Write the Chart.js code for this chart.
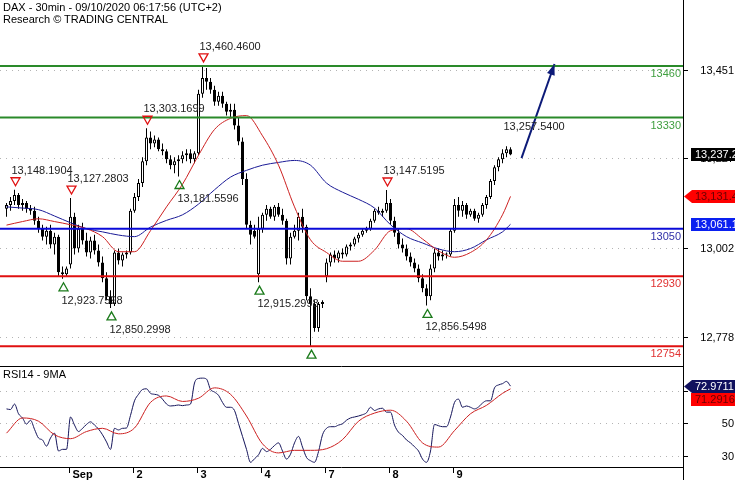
<!DOCTYPE html>
<html>
<head>
<meta charset="utf-8">
<script src="https://cdn.jsdelivr.net/npm/chart.js@4.4.1/dist/chart.umd.min.js"></script>
<style>
  html, body { margin: 0; padding: 0; background: #fff; }
  #wrap { position: relative; width: 735px; height: 480px; overflow: hidden; font-family: "Liberation Sans", Arial, sans-serif; }
  #wrap canvas { position: absolute; left: 0; }
  .hdr { position: absolute; left: 3px; font-size: 11px; line-height: 12px; color: #000; white-space: nowrap; }
</style>
</head>
<body>
<div id="wrap">
  <canvas id="priceChart" width="735" height="366" style="top:0"></canvas>
  <canvas id="rsiChart" width="735" height="114" style="top:366px"></canvas>
  <div class="hdr" style="top:1px">DAX - 30min - 09/10/2020 06:17:56 (UTC+2)</div>
  <div class="hdr" style="top:13px">Research © TRADING CENTRAL</div>
  <div class="hdr" style="top:368px">RSI14 - 9MA</div>
</div>
<script>
// 30min bars, Aug 31 -> Sep 9 (16 bars a day)
const open = [
  13100,13110,13120,13135,13110,13115,13100,13095,13070,13050,13030,13045,13010,13030,12940,12935,
  12960,13080,13000,13050,13020,12990,13020,12995,12965,12925,12880,12860,12990,12970,12985,12990,
  13095,13130,13165,13220,13280,13265,13275,13250,13245,13225,13210,13220,13225,13235,13240,13225,
  13240,13390,13430,13420,13400,13370,13385,13365,13345,13350,13310,13270,13175,13060,13045,12935,
  13050,13085,13100,13080,13105,13085,13070,12975,13030,13045,13080,13055,12880,12860,12800,12860,
  12930,12965,12985,12975,12990,12985,13005,13010,13025,13035,13045,13050,13070,13095,13090,13095,
  13115,13070,13040,13010,13000,12980,12965,12950,12925,12900,12880,12950,12990,12980,12985,12985,
  13045,13110,13095,13110,13085,13095,13075,13085,13110,13130,13170,13205,13225,13240,13250
];
const high = [
  13115,13130,13148.1904,13140,13125,13120,13110,13105,13080,13060,13055,13060,13040,13035,12955,12955,
  13127.2803,13090,13060,13065,13040,13030,13035,13010,12980,12940,12895,12995,13000,12990,12995,13100,
  13140,13175,13230,13303.1699,13295,13285,13280,13265,13250,13235,13230,13235,13245,13250,13250,13245,
  13400,13460.46,13455,13430,13410,13395,13395,13370,13365,13365,13330,13280,13190,13070,13060,13080,
  13090,13110,13105,13110,13115,13100,13075,13040,13060,13090,13100,13060,12900,12870,12865,12870,
  12975,12990,12995,12995,13000,13010,13015,13030,13040,13050,13055,13075,13100,13105,13100,13147.5195,
  13125,13080,13050,13025,13010,12990,12975,12960,12935,12910,12960,13000,13000,12995,12990,13050,
  13125,13130,13120,13115,13100,13100,13090,13115,13135,13175,13210,13230,13250,13257.54,13255
];
const low = [
  13080,13095,13110,13100,13095,13090,13085,13060,13040,13020,13010,13000,12985,12930,12923.7598,12930,
  12950,12985,12990,13010,12980,12975,12985,12955,12915,12870,12850.2998,12855,12960,12955,12975,12985,
  13090,13120,13155,13210,13250,13255,13245,13235,13215,13200,13190,13181.5596,13215,13220,13215,13215,
  13235,13380,13400,13390,13360,13360,13355,13335,13330,13300,13260,13160,13050,13010,13025,12915.2998,
  13040,13070,13075,13070,13080,13060,12960,12960,13025,13020,13040,12870,12754,12790,12790,12850,
  12915,12955,12965,12965,12975,12980,12995,13005,13015,13030,13040,13045,13065,13085,13080,13090,
  13060,13030,13000,12990,12970,12955,12940,12915,12890,12856.5498,12870,12940,12970,12970,12975,12980,
  13040,13080,13080,13075,13080,13070,13065,13080,13100,13125,13160,13195,13215,13230,13235
];
const close = [
  13110,13120,13135,13110,13115,13100,13095,13070,13050,13030,13045,13010,13030,12940,12935,12950,
  13080,13000,13050,13020,12990,13020,12995,12965,12925,12880,12860,12990,12970,12985,12990,13095,
  13130,13165,13220,13280,13265,13275,13250,13245,13225,13210,13220,13225,13235,13240,13225,13240,
  13390,13430,13420,13400,13370,13385,13365,13345,13350,13310,13270,13175,13060,13035,13030,13050,
  13085,13100,13080,13105,13085,13070,12975,13030,13045,13080,13055,12880,12860,12800,12860,12865,
  12965,12985,12975,12990,12985,13005,13010,13025,13035,13045,13050,13070,13095,13090,13095,13115,
  13070,13040,13010,13000,12980,12965,12950,12925,12900,12880,12950,12990,12980,12985,12985,13045,
  13110,13095,13110,13085,13095,13075,13085,13110,13130,13170,13205,13225,13240,13250,13237.2
];

// moving averages, read every 4th bar
const maIdx = [0,4,8,12,16,20,24,28,32,36,40,44,48,52,56,60,64,68,72,76,80,84,88,92,96,100,104,108,112,116,120,124,126];
const maRed = [13059,13068,13075,13068,13060,13050,13030,12992,12992,13045,13105,13162,13235,13300,13328,13335,
  13284,13210,13105,13022,12990,12968,12968,12996,13045,13050,13024,12994,12978,12990,13022,13085,13131.4];
const maBlue = [13105,13102,13098,13082,13065,13050,13042,13034,13030,13054,13071,13085,13112,13148,13180,13197,
  13210,13217,13222,13210,13165,13142,13124,13102,13060,13030,13014,12999,12992,13000,13022,13042,13061.1];

const rsi14 = [
  58.9,58.5,61.9,55.9,53.3,49.5,51.9,46.3,40.9,39.7,35.9,40.9,43.9,32.9,33.9,33.9,
  53.9,48.9,44.9,46.9,49.3,50.9,48.9,46.5,42.9,38.5,33.9,46.9,45.9,46.9,47.1,54.9,
  63.9,67.9,70.9,71.3,68.5,67.9,67.3,64.9,61.9,60.7,60.9,61.3,60.9,61.3,61.9,74.9,
  77.7,77.9,77.3,70.9,69.3,67.3,62.9,59.9,59.9,57.9,49.9,41.9,33.9,25.9,28.1,30.5,
  34.5,32.5,33.9,36.3,37.9,32.9,27.9,30.9,37.9,41.9,35.3,28.9,26.9,25.9,32.5,42.9,
  46.9,47.9,47.9,48.9,49.7,51.9,53.3,53.9,54.5,55.3,56.5,59.9,57.9,58.9,59.3,56.9,
  56.9,48.9,44.5,42.5,39.7,37.9,35.5,32.9,27.9,25.9,32.9,49.3,48.5,47.9,47.9,53.9,
  62.9,64.9,59.9,60.7,59.9,58.9,60.1,62.5,63.9,63.9,71.9,73.7,74.5,75.9,72.9711
];
const rsiMa9 = [43.9,53.3,51.3,42.9,40.5,44.9,46.9,43.5,47.1,62.9,66.9,63.5,65.5,71.9,67.9,54.5,
  37.3,31.7,33.3,33.3,34.3,39.9,51.3,56.3,58.1,51.3,37.9,35.3,45.5,55.9,61.1,68.5,71.2916];

const levels = [13460, 13330, 13050, 12930, 12754];
const pivotIdx   = [2, 16, 35, 49, 95, 125, 14, 26, 43, 63, 76, 105];
const pivotPrice = [13148.1904, 13127.2803, 13303.1699, 13460.46, 13147.5195, 13257.54,
                    12923.7598, 12850.2998, 13181.5596, 12915.2998, 12754, 12856.5498];
const pivotKind  = ['H','H','H','H','H','H','L','L','L','L','L','L'];
const pivotMark  = [true, true, true, true, true, false, true, true, true, true, true, true];
const pivotLabel = [true, true, true, true, true, true, true, true, true, true, false, true];
const trendX = [128.75, 137];
const trendY = [13228, 13465];

const priceTicks = [12778, 13002, 13227, 13451];
const rsiTicks = [30, 50, 70];
const dayBreaks = [15.5, 31.5, 47.5, 63.5, 79.5, 95.5, 111.5];
const dayLabels = ['Sep', '2', '3', '4', '7', '8', '9'];

// ---- layout / styles ----
const X_MIN = -1.625, X_MAX = X_MIN + 683 / 4;
const FONT = '11px "Liberation Sans", Arial, sans-serif';
const levelColors = ['#2a8a2a', '#2a8a2a', '#0a0ad8', '#e01010', '#e01010'];
const levelText = ['#3f9f3f', '#3f9f3f', '#3030a8', '#e03030', '#e03030'];

const fmt = (v, d) => v.toLocaleString('en-US', { minimumFractionDigits: d, maximumFractionDigits: d });

function valueBox(ctx, left, cy, text, bg, fg, arrow) {
  const top = Math.round(cy - 6.5);
  ctx.fillStyle = bg;
  ctx.beginPath();
  if (arrow) {
    ctx.moveTo(left + 1, top + 6.5);
    ctx.lineTo(left + 9, top);
    ctx.lineTo(735, top);
    ctx.lineTo(735, top + 13);
    ctx.lineTo(left + 9, top + 13);
    ctx.closePath();
  } else {
    ctx.rect(left + 8, top, 735 - left - 8, 13);
  }
  ctx.fill();
  ctx.fillStyle = fg;
  ctx.font = FONT;
  ctx.textAlign = 'left';
  ctx.textBaseline = 'middle';
  ctx.fillText(text, left + 12, top + 7);
}

function dotted(ctx, a, py) {
  ctx.save();
  ctx.strokeStyle = '#b4b4b4';
  ctx.lineWidth = 1;
  ctx.setLineDash([1, 5]);
  ctx.beginPath();
  ctx.moveTo(a.left, py);
  ctx.lineTo(a.right, py);
  ctx.stroke();
  ctx.restore();
}

const priceDecor = {
  id: 'priceDecor',
  beforeDatasetsDraw(chart) {
    const { ctx, chartArea: a, scales: { y } } = chart;
    priceTicks.forEach(v => dotted(ctx, a, Math.round(y.getPixelForValue(v)) + 0.5));
  },
  afterDatasetsDraw(chart) {
    const { ctx, chartArea: a, scales: { x, y } } = chart;
    ctx.save();
    ctx.font = FONT;
    // level labels
    ctx.textAlign = 'right';
    ctx.textBaseline = 'middle';
    levels.forEach((lv, k) => {
      ctx.fillStyle = levelText[k];
      ctx.fillText(String(lv), a.right - 2, y.getPixelForValue(lv) + 8);
    });
    // pivot marks
    pivotIdx.forEach((idx, k) => {
      const px = Math.round(x.getPixelForValue(idx)) + 0.5;
      const py = y.getPixelForValue(pivotPrice[k]);
      const up = pivotKind[k] === 'L';
      const s = up ? 1 : -1;
      if (pivotMark[k]) {
        ctx.strokeStyle = up ? '#1a7a1a' : '#e01010';
        ctx.lineWidth = 1.3;
        ctx.beginPath();
        ctx.moveTo(px - 4.5, py + s * 12);
        ctx.lineTo(px + 4.5, py + s * 12);
        ctx.lineTo(px, py + s * 4);
        ctx.closePath();
        ctx.stroke();
      }
      if (pivotLabel[k]) {
        ctx.fillStyle = '#222';
        ctx.textAlign = 'left';
        ctx.fillText(fmt(pivotPrice[k], 4), px + (up ? -2 : -4), py + (up ? 22 : -19));
      }
    });
    // trend arrow head
    const x1 = x.getPixelForValue(trendX[0]), y1 = y.getPixelForValue(trendY[0]);
    const x2 = x.getPixelForValue(trendX[1]), y2 = y.getPixelForValue(trendY[1]);
    const ang = Math.atan2(y2 - y1, x2 - x1);
    ctx.fillStyle = '#0c1a78';
    ctx.beginPath();
    ctx.moveTo(x2, y2);
    ctx.lineTo(x2 - 11 * Math.cos(ang) + 4 * Math.sin(ang), y2 - 11 * Math.sin(ang) - 4 * Math.cos(ang));
    ctx.lineTo(x2 - 11 * Math.cos(ang) - 4 * Math.sin(ang), y2 - 11 * Math.sin(ang) + 4 * Math.cos(ang));
    ctx.closePath();
    ctx.fill();
    ctx.restore();
  },
  afterDraw(chart) {
    const { ctx, chartArea: a, scales: { y } } = chart;
    ctx.save();
    ctx.strokeStyle = '#000';
    ctx.lineWidth = 1;
    ctx.beginPath();
    ctx.moveTo(a.right + 0.5, 0);
    ctx.lineTo(a.right + 0.5, chart.height);
    ctx.stroke();
    ctx.font = FONT;
    ctx.textAlign = 'right';
    ctx.textBaseline = 'middle';
    priceTicks.forEach(v => {
      const py = Math.round(y.getPixelForValue(v)) + 0.5;
      ctx.beginPath();
      ctx.moveTo(a.right, py);
      ctx.lineTo(a.right + 5, py);
      ctx.stroke();
      ctx.fillStyle = '#000';
      ctx.fillText(fmt(v, 0), 734, py);
    });
    const last = close.length - 1;
    valueBox(ctx, a.right, y.getPixelForValue(close[last]), fmt(close[last], 1), '#000', '#fff', false);
    valueBox(ctx, a.right, y.getPixelForValue(maRed[maRed.length - 1]), fmt(maRed[maRed.length - 1], 1), '#ff0000', '#6a0000', true);
    valueBox(ctx, a.right, y.getPixelForValue(maBlue[maBlue.length - 1]), fmt(maBlue[maBlue.length - 1], 1), '#0a20f0', '#fff', false);
    ctx.restore();
  }
};

const rsiDecor = {
  id: 'rsiDecor',
  beforeDatasetsDraw(chart) {
    const { ctx, chartArea: a, scales: { y } } = chart;
    rsiTicks.forEach(v => dotted(ctx, a, Math.round(y.getPixelForValue(v)) + 0.5));
  },
  afterDraw(chart) {
    const { ctx, chartArea: a, scales: { x, y } } = chart;
    ctx.save();
    ctx.strokeStyle = '#000';
    ctx.lineWidth = 1;
    ctx.beginPath();
    ctx.moveTo(0, 0.5); ctx.lineTo(a.right, 0.5);
    ctx.moveTo(0, a.bottom + 0.5); ctx.lineTo(a.right, a.bottom + 0.5);
    ctx.moveTo(a.right + 0.5, 0); ctx.lineTo(a.right + 0.5, chart.height);
    ctx.stroke();
    ctx.font = FONT;
    ctx.textAlign = 'right';
    ctx.textBaseline = 'middle';
    rsiTicks.forEach(v => {
      const py = Math.round(y.getPixelForValue(v)) + 0.5;
      ctx.beginPath();
      ctx.moveTo(a.right, py);
      ctx.lineTo(a.right + 5, py);
      ctx.stroke();
      ctx.fillStyle = '#000';
      ctx.fillText(String(v), 734, py);
    });
    // day ticks
    ctx.font = 'bold ' + FONT;
    ctx.textAlign = 'left';
    dayBreaks.forEach((d, k) => {
      const px = Math.round(x.getPixelForValue(d)) + 0.5;
      ctx.beginPath();
      ctx.moveTo(px, a.bottom);
      ctx.lineTo(px, a.bottom + 6);
      ctx.stroke();
      ctx.fillStyle = '#000';
      ctx.fillText(dayLabels[k], px + 3, a.bottom + 8);
    });
    const cyRsi = y.getPixelForValue(rsi14[rsi14.length - 1]);
    valueBox(ctx, a.right, cyRsi, fmt(rsi14[rsi14.length - 1], 4), '#10105e', '#fff', true);
    valueBox(ctx, a.right, cyRsi + 13, fmt(rsiMa9[rsiMa9.length - 1], 4), '#ff0000', '#6a0000', false);
    ctx.restore();
  }
};

const idx = close.map((_, i) => i);
const lineDs = (data, color, width, order) => ({
  type: 'line', data, borderColor: color, borderWidth: width, pointRadius: 0,
  fill: false, order, cubicInterpolationMode: 'monotone'
});

const baseOptions = {
  responsive: false,
  animation: false,
  events: [],
  plugins: { legend: { display: false }, tooltip: { enabled: false } }
};
const xScale = { type: 'linear', min: X_MIN, max: X_MAX, offset: false, display: false };

new Chart(document.getElementById('priceChart'), {
  type: 'line',
  data: {
    datasets: [
      ...levels.map((lv, k) => ({
        type: 'line', data: [{ x: X_MIN, y: lv }, { x: X_MAX, y: lv }],
        borderColor: levelColors[k], borderWidth: 2, pointRadius: 0, order: -1
      })),
      lineDs(trendX.map((v, k) => ({ x: v, y: trendY[k] })), '#0c1a78', 2, -1),
      lineDs(maIdx.map((v, k) => ({ x: v, y: maRed[k] })), '#cc2020', 1, 0),
      lineDs(maIdx.map((v, k) => ({ x: v, y: maBlue[k] })), '#1a1a96', 1, 0),
      {
        type: 'bar', data: idx.map(i => ({ x: i, y: [open[i], close[i]] })),
        barThickness: 3, grouped: false, minBarLength: 1, inflateAmount: 0,
        borderWidth: 1, borderSkipped: false, borderColor: '#000',
        backgroundColor: c => close[c.dataIndex] >= open[c.dataIndex] ? '#fff' : '#000',
        order: 1
      },
      {
        type: 'bar', data: idx.map(i => ({ x: i, y: [low[i], high[i]] })),
        barThickness: 1, grouped: false, inflateAmount: 0, borderWidth: 0,
        backgroundColor: '#000', order: 2
      }
    ]
  },
  options: {
    ...baseOptions,
    layout: { padding: { right: 52 } },
    scales: {
      x: xScale,
      y: { type: 'linear', min: 12704, max: 13626.3, beginAtZero: false, display: false }
    }
  },
  plugins: [priceDecor]
});

new Chart(document.getElementById('rsiChart'), {
  type: 'line',
  data: {
    datasets: [
      lineDs(idx.map(i => ({ x: i, y: rsi14[i] })), '#14145a', 1, 1),
      lineDs(maIdx.map((v, k) => ({ x: v, y: rsiMa9[k] })), '#cc2020', 1, 0)
    ]
  },
  options: {
    ...baseOptions,
    layout: { padding: { right: 52, bottom: 13 } },
    scales: {
      x: xScale,
      y: { type: 'linear', min: 23.0, max: 85.4, display: false }
    }
  },
  plugins: [rsiDecor]
});
</script>
</body>
</html>
